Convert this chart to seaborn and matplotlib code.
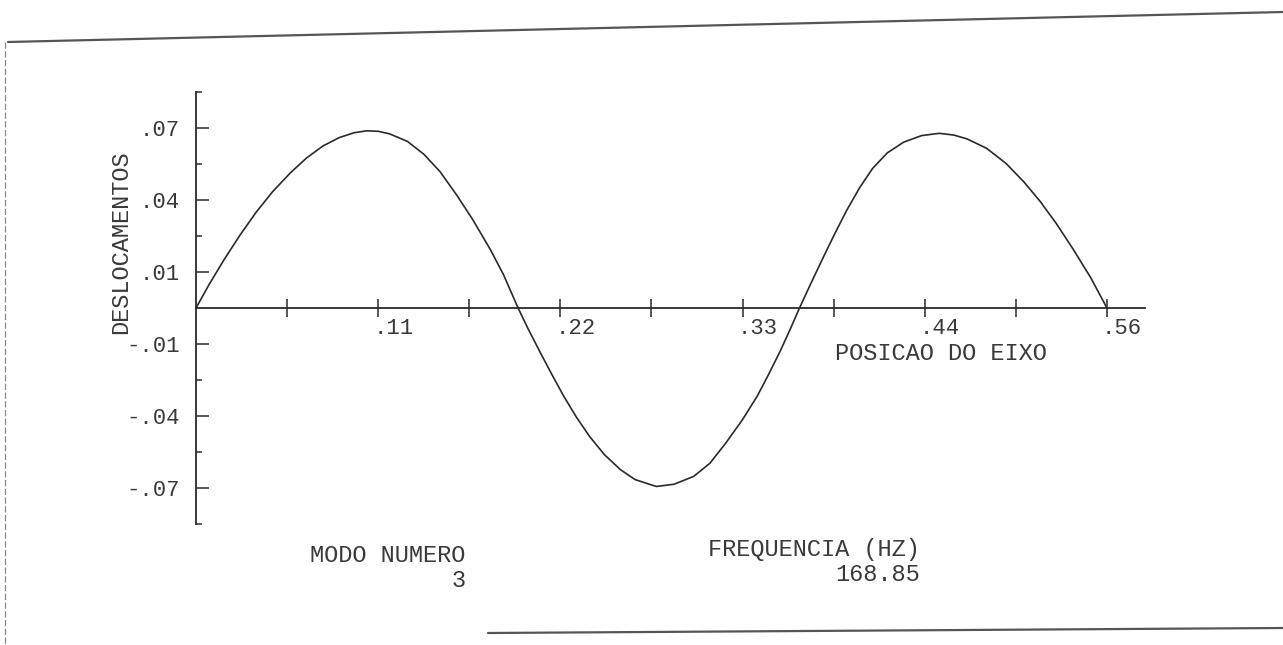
import matplotlib
matplotlib.use("Agg")
import matplotlib.pyplot as plt
import matplotlib.transforms as mtransforms
from matplotlib.lines import Line2D
import pandas as pd
import seaborn as sns

# ---- data ----
posicao = [0.000, 0.008, 0.017, 0.027, 0.037, 0.047, 0.058, 0.068, 0.078, 0.088,
           0.097, 0.105, 0.112, 0.119, 0.130, 0.140, 0.150, 0.160, 0.170, 0.181,
           0.189, 0.198, 0.204, 0.212, 0.219, 0.226, 0.234, 0.242, 0.251, 0.261,
           0.270, 0.283, 0.294, 0.306, 0.316, 0.326, 0.336, 0.345, 0.352, 0.359,
           0.365, 0.371, 0.378, 0.386, 0.393, 0.400, 0.408, 0.416, 0.425, 0.435,
           0.446, 0.457, 0.466, 0.474, 0.486, 0.498, 0.509, 0.519, 0.529, 0.539,
           0.550, 0.560]
deslocamento = [0.0, 0.0092, 0.0188, 0.0287, 0.0378, 0.0458, 0.0533, 0.0592, 0.0639, 0.0672,
                0.0691, 0.0699, 0.0697, 0.0687, 0.0657, 0.0607, 0.0538, 0.0448, 0.0350, 0.0230,
                0.0132, 0.0, -0.0080, -0.0180, -0.0265, -0.0347, -0.0432, -0.0507, -0.0578, -0.0638,
                -0.0677, -0.0704, -0.0695, -0.0664, -0.0612, -0.0530, -0.0440, -0.0348, -0.0262, -0.0172,
                -0.0088, 0.0, 0.0097, 0.0205, 0.0297, 0.0385, 0.0475, 0.0551, 0.0612, 0.0654,
                0.0680, 0.0689, 0.0682, 0.0667, 0.0630, 0.0570, 0.0497, 0.0420, 0.0332, 0.0234,
                0.0120, 0.0]

x_major_ticks = [0.112, 0.224, 0.336, 0.448, 0.560]
x_major_labels = [".11", ".22", ".33", ".44", ".56"]
x_minor_ticks = [0.056, 0.168, 0.280, 0.392, 0.504]
y_major_ticks = [-0.0710, -0.0426, -0.0142, 0.0142, 0.0426, 0.0710]
y_major_labels = ["-.07", "-.04", "-.01", ".01", ".04", ".07"]
y_minor_ticks = [-0.0852, -0.0568, -0.0284, 0.0284, 0.0568, 0.0852]

y_label = "DESLOCAMENTOS"
x_label = "POSICAO DO EIXO"
modo_titulo = "MODO NUMERO"
modo_valor = "3"
freq_titulo = "FREQUENCIA (HZ)"
freq_valor = "168.85"

# ---- styling ----
sns.set_theme(style="white")
plt.rcParams["font.family"] = ["Liberation Mono", "DejaVu Sans Mono"]
ink = "#2a2a2a"
txt = "#3a3a3a"
fs = 17
fs_tick = 16

W, H = 1283, 645
fig = plt.figure(figsize=(W / 100, H / 100), dpi=100)
fig.patch.set_facecolor("white")

zero_px, step_px = 308, 36
left_px, right_px = 196, 1145
top_px = zero_px - 6 * step_px
bot_px = zero_px + 6 * step_px
ax = fig.add_axes([left_px / W, 1 - bot_px / H,
                   (right_px - left_px) / W, (bot_px - top_px) / H])
ax.set_facecolor("none")

df = pd.DataFrame({"posicao": posicao, "deslocamento": deslocamento})
sns.lineplot(data=df, x="posicao", y="deslocamento", ax=ax, color=ink,
             linewidth=1.2, sort=False, estimator=None)

ax.set_xlim(0, 0.5834)
ax.set_ylim(-0.0852, 0.0852)
ax.set_xlabel("")
ax.set_ylabel("")

for s in ["top", "right"]:
    ax.spines[s].set_visible(False)
ax.spines["bottom"].set_position(("data", 0))
ax.spines["left"].set_position(("data", 0))
for s in ["bottom", "left"]:
    ax.spines[s].set_color(ink)
    ax.spines[s].set_linewidth(1.3)

ax.set_xticks(x_major_ticks, labels=x_major_labels)
ax.set_xticks(x_minor_ticks, minor=True)
ax.set_yticks(y_major_ticks, labels=y_major_labels)
ax.set_yticks(y_minor_ticks, minor=True)

ax.tick_params(axis="x", which="both", bottom=True, direction="inout", length=13,
               width=1.1, color=ink, pad=1.0, labelsize=fs_tick, labelcolor=txt)
ax.tick_params(axis="y", which="major", left=True, direction="in", length=9,
               width=1.1, color=ink, pad=11.5, labelsize=fs_tick, labelcolor=txt)
ax.tick_params(axis="y", which="minor", left=True, direction="in", length=4.5,
               width=1.1, color=ink)

shift = mtransforms.ScaledTranslation(-5 / 100, 0, fig.dpi_scale_trans)
for lab in ax.get_xticklabels():
    lab.set_horizontalalignment("left")
    lab.set_transform(lab.get_transform() + shift)


def fx(px):
    return px / W


def fy(py):
    return 1 - py / H


fig.text(fx(121), fy(242), y_label, rotation=90, ha="center", va="center",
         fontsize=fs, color=txt)
fig.text(fx(835), fy(354), x_label, ha="left", va="center", fontsize=fs, color=txt)
fig.text(fx(310), fy(568), f"{modo_titulo}\n{modo_valor}", ha="left", va="center",
         multialignment="right", linespacing=1.1, fontsize=fs, color=txt)
fig.text(fx(708), fy(562), f"{freq_titulo}\n{freq_valor}", ha="left", va="center",
         multialignment="right", linespacing=1.1, fontsize=fs, color=txt)

# scanned page border
fig.add_artist(Line2D([fx(8), fx(1283)], [fy(42), fy(12)], transform=fig.transFigure,
                      color="#555555", linewidth=1.6))
fig.add_artist(Line2D([fx(5), fx(5)], [fy(42), fy(645)], transform=fig.transFigure,
                      color="#888888", linewidth=0.9, linestyle=(0, (5, 2))))
fig.add_artist(Line2D([fx(488), fx(1283)], [fy(633), fy(628)], transform=fig.transFigure,
                      color="#555555", linewidth=1.6))

fig.savefig("out.png", dpi=100, facecolor="white")
